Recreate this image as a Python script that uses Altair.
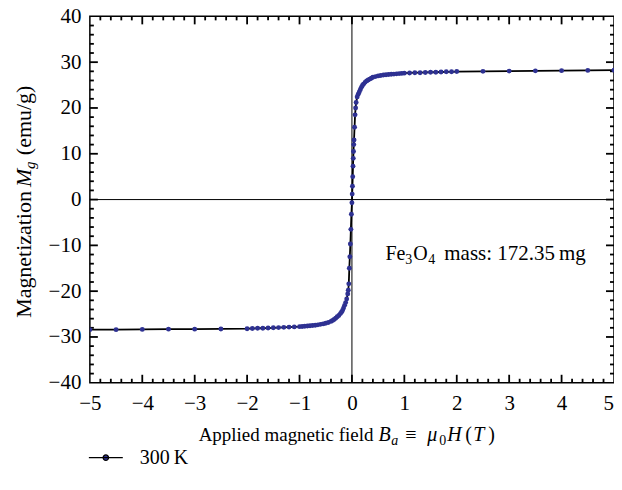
import altair as alt
import pandas as pd

# ---- data ----
x_neg = [-5.0, -4.5, -4.0, -3.5, -3.0, -2.5,
         -2.0, -1.9, -1.8, -1.7, -1.6, -1.5, -1.4, -1.3, -1.2, -1.1,
         -1.0, -0.95, -0.9, -0.85, -0.8, -0.75, -0.7, -0.65, -0.6, -0.55, -0.5, -0.45, -0.4,
         -0.37, -0.34, -0.31, -0.28, -0.25, -0.22,
         -0.2, -0.18, -0.16, -0.14, -0.12, -0.1,
         -0.08, -0.07, -0.06, -0.05, -0.04, -0.03, -0.02, -0.01]
y_neg = [-28.4, -28.4, -28.35, -28.3, -28.3, -28.25,
         -28.2, -28.15, -28.1, -28.1, -28.05, -28.0, -27.95, -27.9, -27.85, -27.8,
         -27.75, -27.7, -27.65, -27.6, -27.55, -27.5, -27.45, -27.35, -27.25, -27.15, -27.0, -26.85, -26.6,
         -26.4, -26.2, -25.9, -25.6, -25.3, -24.9,
         -24.6, -24.2, -23.7, -23.1, -22.5, -21.7,
         -20.6, -19.8, -18.4, -15.0, -12.5, -9.7, -6.5, -3.2]
x_pos = [0.0, 0.005, 0.01, 0.015, 0.02, 0.025, 0.03, 0.035, 0.04,
         0.05, 0.06, 0.07, 0.08,
         0.1, 0.12, 0.14, 0.16, 0.18, 0.2,
         0.22, 0.25, 0.28, 0.31, 0.34, 0.37, 0.4,
         0.45, 0.5, 0.55, 0.6, 0.65, 0.7, 0.75, 0.8, 0.85, 0.9, 0.95, 1.0,
         1.1, 1.2, 1.3, 1.4, 1.5, 1.6, 1.7, 1.8, 1.9, 2.0,
         2.5, 3.0, 3.5, 4.0, 4.5, 5.0]
y_pos = [-0.7, 1.2, 2.9, 5.0, 7.3, 9.0, 10.5, 12.0, 13.0,
         15.8, 18.5, 20.0, 21.2,
         22.4, 23.0, 23.5, 24.0, 24.5, 24.9,
         25.2, 25.6, 25.9, 26.1, 26.3, 26.5, 26.7,
         26.85, 27.0, 27.1, 27.2, 27.25, 27.3, 27.35, 27.4, 27.45, 27.5, 27.55, 27.6,
         27.65, 27.7, 27.7, 27.75, 27.8, 27.8, 27.85, 27.9, 27.9, 27.95,
         28.0, 28.05, 28.1, 28.15, 28.2, 28.25]
series_name = "300\u2009K"

x_ticks = [-5, -4, -3, -2, -1, 0, 1, 2, 3, 4, 5]
y_ticks = [-40, -30, -20, -10, 0, 10, 20, 30, 40]
x_minor = [round(t + k * 0.2, 1) for t in x_ticks[:-1] for k in range(1, 5)]
y_minor = [t + k * 2 for t in y_ticks[:-1] for k in range(1, 5)]

# ---- style ----
W, H = 525, 367
FONT = "Liberation Serif"
NAVY = "#2e3192"
FS = 21
LPAD = 10

df = pd.DataFrame({"B": x_neg + x_pos, "M": y_neg + y_pos})
df["series"] = series_name

xs = alt.Scale(domain=[-5, 5], nice=False, zero=False)
ys = alt.Scale(domain=[-40, 40], nice=False, zero=False)
# last x label ("5") is drawn right-aligned at the frame edge so that it is not clipped
xaxis = alt.Axis(values=x_ticks[:-1], ticks=False, domain=False, grid=False, title=None,
                 labelFont=FONT, labelFontSize=FS, labelPadding=LPAD, labelColor="black",
                 labelFlush=False)
yaxis = alt.Axis(values=y_ticks, ticks=False, domain=False, grid=False, title=None,
                 labelFont=FONT, labelFontSize=FS, labelPadding=9, labelColor="black",
                 labelFlush=False)

legend_path = "M-1,0H1M-0.16,0A0.16,0.16,0,1,0,0.16,0A0.16,0.16,0,1,0,-0.16,0Z"

line = alt.Chart(df).mark_line(strokeWidth=1.8, clip=True).encode(
    x=alt.X("B:Q", scale=xs, axis=xaxis),
    y=alt.Y("M:Q", scale=ys, axis=yaxis),
    stroke=alt.Stroke("series:N", scale=alt.Scale(domain=[series_name], range=["black"]),
                      legend=alt.Legend(title=None, orient="none", legendX=-2, legendY=424,
                                        symbolType=legend_path, symbolSize=1156,
                                        symbolStrokeWidth=1.2, symbolFillColor=NAVY,
                                        symbolStrokeColor="black",
                                        labelFont=FONT, labelFontSize=20,
                                        labelColor="black", labelOffset=16)),
)

points = alt.Chart(df).mark_circle(size=24, color=NAVY, opacity=1, clip=True).encode(
    x=alt.X("B:Q", scale=xs, axis=xaxis),
    y=alt.Y("M:Q", scale=ys, axis=yaxis),
)

zero_df = pd.DataFrame({"v": [0]})
vzero = alt.Chart(zero_df).mark_rule(color="black", strokeWidth=1).encode(
    x=alt.X("v:Q", scale=xs, axis=xaxis))
hzero = alt.Chart(zero_df).mark_rule(color="black", strokeWidth=1).encode(
    y=alt.Y("v:Q", scale=ys, axis=yaxis))


def xtick(vals, L):
    d = pd.DataFrame({"v": vals})
    b = alt.Chart(d).mark_rule(color="black", strokeWidth=1.8).encode(
        x=alt.X("v:Q", scale=xs, axis=xaxis), y=alt.value(H), y2=alt.value(H - L))
    t = alt.Chart(d).mark_rule(color="black", strokeWidth=1.8).encode(
        x=alt.X("v:Q", scale=xs, axis=xaxis), y=alt.value(0), y2=alt.value(L))
    return [b, t]


def ytick(vals, L):
    d = pd.DataFrame({"v": vals})
    l = alt.Chart(d).mark_rule(color="black", strokeWidth=1.8).encode(
        y=alt.Y("v:Q", scale=ys, axis=yaxis), x=alt.value(0), x2=alt.value(L))
    r = alt.Chart(d).mark_rule(color="black", strokeWidth=1.8).encode(
        y=alt.Y("v:Q", scale=ys, axis=yaxis), x=alt.value(W), x2=alt.value(W - L))
    return [l, r]


ticks = xtick(x_ticks[1:-1], 8) + xtick(x_minor, 4) + ytick(y_ticks[1:-1], 8) + ytick(y_minor, 4)

one = pd.DataFrame({"k": [0]})


def txt(s, x, y, size=20, italic=False, angle=0, dy=0, align="left", baseline="alphabetic"):
    kw = dict(text=s, font=FONT, fontSize=size, color="black", align=align,
              baseline=baseline, dy=dy)
    if italic:
        kw["fontStyle"] = "italic"
    if angle:
        kw["angle"] = angle
    return alt.Chart(one).mark_text(**kw).encode(x=alt.value(x), y=alt.value(y))


last_label = txt(str(x_ticks[-1]), W, H + LPAD, size=FS, align="right", baseline="top")

# x-axis title: Applied magnetic field B_a ≡ μ0 H(T)
XB = 425
xtitle = [
    txt("Applied magnetic field", 109, XB, size=19),
    txt("B", 289, XB, italic=True),
    txt("a", 302, XB, size=14, italic=True, dy=4),
    txt("\u2261", 316, XB),
    txt("\u03bc", 338, XB, italic=True),
    txt("0", 350, XB, size=14, dy=4),
    txt("H", 358, XB, italic=True),
    txt("(", 376, XB),
    txt("T", 384, XB, italic=True),
    txt(")", 399, XB),
]

# y-axis title: Magnetization M_g (emu/g)
YB = -59
ytitle = [
    txt("Magnetization", YB, 302, size=22, angle=270),
    txt("M", YB, 171, size=22, italic=True, angle=270),
    txt("g", YB, 153, size=15, italic=True, angle=270, dy=4),
    txt("(emu/g)", YB, 139, size=22, angle=270),
]

# annotation: Fe3O4 mass: 172.35 mg
AX, AY = 296, 244
annot = [
    txt("Fe", AX, AY),
    txt("3", AX + 20, AY, size=14, dy=4),
    txt("O", AX + 28, AY),
    txt("4", AX + 43, AY, size=14, dy=4),
    txt("mass: 172.35\u2009mg", AX + 59, AY, size=21),
]

chart = alt.layer(vzero, hzero, *ticks, line, points, last_label,
                  *xtitle, *ytitle, *annot).properties(
    width=W, height=H,
    autosize="none",
    padding={"left": 82, "top": 8, "right": 0, "bottom": 90},
).configure_view(stroke="black", strokeWidth=1.5)

chart.save("out.html", embed_options={"renderer": "svg", "actions": False})
